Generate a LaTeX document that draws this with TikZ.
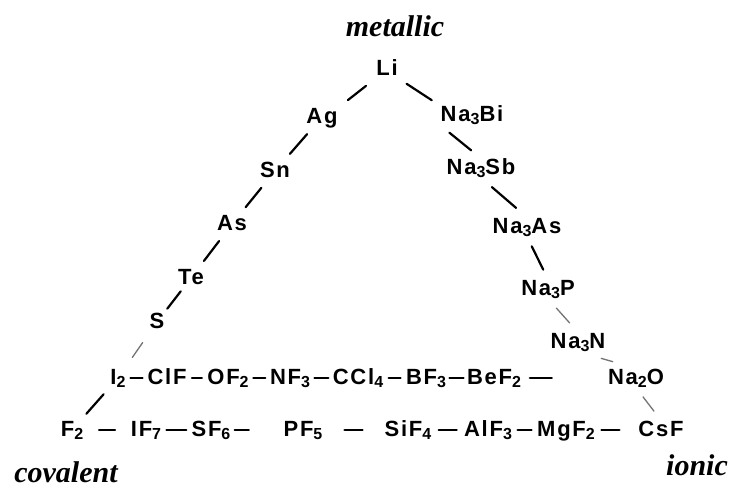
\documentclass[tikz,border=0pt]{standalone}
\usepackage{fontspec}
\setmainfont{Liberation Serif}
\newfontfamily\hand{Liberation Sans}[LetterSpace=8]
\usetikzlibrary{calc}
\newcommand{\lowr}[1]{\raisebox{-0.3ex}{\fontsize{16pt}{16pt}\selectfont #1}}
\begin{document}
\begin{tikzpicture}[x=1pt,y=-1pt,
  chem/.style={font=\hand\bfseries\fontsize{22pt}{22pt}\selectfont, inner sep=1pt, text height=15pt, text depth=2pt, anchor=center},
  lbl/.style={font=\bfseries\itshape\fontsize{30pt}{30pt}\selectfont, inner sep=0pt, text depth=0pt, anchor=base},
  seg/.style 2 args={to path={($($(\tikztostart)!#1!(\tikztotarget)$)!#2!(\tikztostart)$) -- ($($(\tikztostart)!#1!(\tikztotarget)$)!#2!(\tikztotarget)$)}},
  link/.style={line width=2.2pt, line cap=round},
  faint/.style={line width=1.3pt, draw=black!55, line cap=round}]
\useasboundingbox (0,0) rectangle (734,488);
% labels
\node[lbl] (met) at (395,36) {metallic};
\node[lbl] (cov) at (66,482) {covalent};
\node[lbl] (ion) at (697,475) {ionic};
% left side
\node[chem] (Li) at (387,69) {Li};
\node[chem] (Ag) at (322,117) {Ag};
\node[chem] (Sn) at (275,171) {Sn};
\node[chem] (As) at (232,224) {As};
\node[chem] (Te) at (191,278) {Te};
\node[chem] (S) at (157,322) {S};
% right side
\node[chem] (NaBi) at (472,115) {Na\lowr{3}Bi};
\node[chem] (NaSb) at (481,168) {Na\lowr{3}Sb};
\node[chem] (NaAs) at (527,227) {Na\lowr{3}As};
\node[chem] (NaP) at (548,289) {Na\lowr{3}P};
\node[chem] (NaN) at (578,342) {Na\lowr{3}N};
% row 1
\node[chem] (I2) at (118,378) {I\lowr{2}};
\node[chem] (ClF) at (167,378) {ClF};
\node[chem] (OF2) at (228,378) {OF\lowr{2}};
\node[chem] (NF3) at (290,378) {NF\lowr{3}};
\node[chem] (CCl4) at (358,378) {CCl\lowr{4}};
\node[chem] (BF3) at (426,378) {BF\lowr{3}};
\node[chem] (BeF2) at (494,378) {BeF\lowr{2}};
\node[chem] (Na2O) at (636,378) {Na\lowr{2}O};
% row 2
\node[chem] (F2) at (72,430) {F\lowr{2}};
\node[chem] (IF7) at (146,430) {IF\lowr{7}};
\node[chem] (SF6) at (211,430) {SF\lowr{6}};
\node[chem] (PF5) at (303,430) {PF\lowr{5}};
\node[chem] (SiF4) at (408,430) {SiF\lowr{4}};
\node[chem] (AlF3) at (488,430) {AlF\lowr{3}};
\node[chem] (MgF2) at (566,430) {MgF\lowr{2}};
\node[chem] (CsF) at (661,430) {CsF};
% left side connectors
\draw[link] (Li.south west) to[seg={0.5}{11.5pt}] (Ag.north east);
\draw[link] (Ag) to[seg={0.5}{13pt}] (Sn);
\draw[link] (Sn) to[seg={0.5}{12.5pt}] (As);
\draw[link] (As) to[seg={0.5}{12.5pt}] (Te);
\draw[link] (Te) to[seg={0.5}{11pt}] (S);
\draw[faint] (S) to[seg={0.5}{9pt}] (I2);
\draw[link] (I2) to[seg={0.5}{13pt}] (F2);
% right side connectors
\draw[link] (Li.south east) to[seg={0.5}{15pt}] (NaBi.north west);
\draw[link] (NaBi.south west) to[seg={0.5}{14pt}] (NaSb.north);
\draw[link] (NaSb.south) to[seg={0.5}{16pt}] (NaAs.north);
\draw[link] (NaAs.south) to[seg={0.5}{13pt}] (NaP.north);
\draw[faint] (NaP.south) to[seg={0.5}{10pt}] (NaN.north);
\draw[faint] (NaN.south) to[seg={0.5}{6pt}] (Na2O.north);
\draw[faint] (Na2O.south) to[seg={0.5}{9pt}] (CsF.north);
% row connectors
\draw[link] (I2.east) to[seg={0.5}{6pt}] (ClF.west);
\draw[link] (ClF.east) to[seg={0.5}{5pt}] (OF2.west);
\draw[link] (OF2.east) to[seg={0.5}{6pt}] (NF3.west);
\draw[link] (NF3.east) to[seg={0.5}{7pt}] (CCl4.west);
\draw[link] (CCl4.east) to[seg={0.5}{6pt}] (BF3.west);
\draw[link] (BF3.east) to[seg={0.5}{7pt}] (BeF2.west);
\draw[link] (BeF2.east) to[seg={0.22}{11pt}] (Na2O.west);
\draw[link] (F2.east) to[seg={0.5}{8pt}] (IF7.west);
\draw[link] (IF7.east) to[seg={0.5}{10pt}] (SF6.west);
\draw[link] (SF6.east) to[seg={0.2}{7pt}] (PF5.west);
\draw[link] (PF5.east) to[seg={0.5}{9pt}] (SiF4.west);
\draw[link] (SiF4.east) to[seg={0.5}{9pt}] (AlF3.west);
\draw[link] (AlF3.east) to[seg={0.5}{7pt}] (MgF2.west);
\draw[link] (MgF2.east) to[seg={0.35}{9pt}] (CsF.west);
\end{tikzpicture}
\end{document}
